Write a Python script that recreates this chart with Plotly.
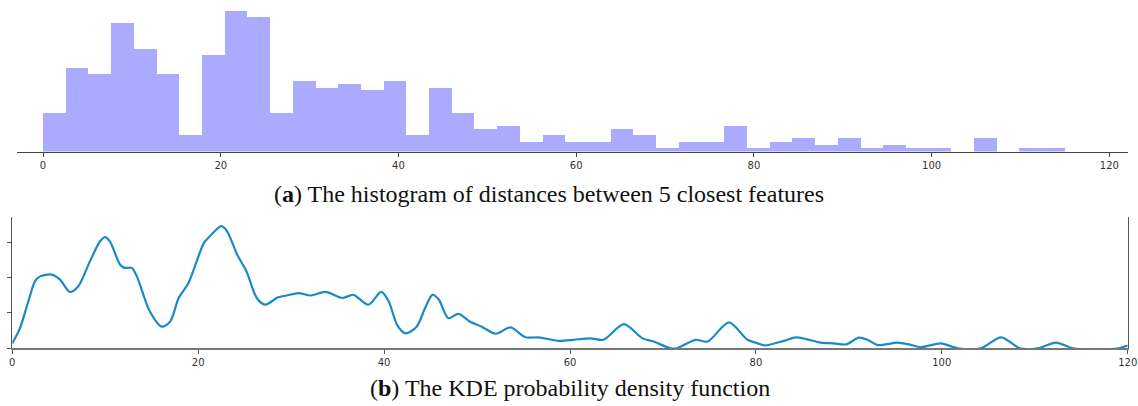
import plotly.graph_objects as go

# ---------- data ----------
# histogram: 45 equal bins spanning 0..115
bin_start = 0.0
bin_end = 115.0
hist_heights = [115, 251, 232, 385, 307, 232, 49, 290, 421, 405,
                115, 212, 192, 202, 184, 212, 49, 192, 115, 68,
                77, 29, 49, 29, 29, 68, 49, 12, 29, 29,
                77, 12, 29, 40, 20, 40, 12, 20, 12, 12,
                0, 40, 0, 12, 12]

# KDE curve
kde_x = [0, 0.83, 1.72, 2.44, 2.98, 4.24, 5.13, 6.21, 7.1, 8.36, 9.44, 9.98, 10.5,
         11.6, 12.1, 12.85, 13.4, 14.8, 16.1, 17.0, 17.9, 18.95, 20.6, 21.1, 21.8,
         22.5, 23.1, 24.2, 25.2, 26.3, 27.2, 28.6, 29.5, 30.8, 32.1, 33.7, 35.5,
         36.7, 38.3, 39.7, 40.5, 41.4, 42.3, 43.5, 44.4, 45.2, 45.9, 46.9, 48.0,
         49.3, 50.5, 52.0, 53.6, 55.2, 56.6, 58.8, 60.4, 62.2, 63.6, 65.8, 67.8,
         69.0, 70.8, 71.5, 73.5, 74.8, 77.1, 79.1, 80.2, 81.0, 83.0, 84.3, 85.4,
         87.0, 88.4, 89.7, 91.1, 92.0, 93.1, 95.2, 96.5, 97.7, 99.9, 101.7, 104.2,
         106.4, 108.4, 110.3, 112.3, 114.1, 119.0, 120.0]
kde_y = [0.14, 0.57, 1.32, 1.89, 2.03, 2.08, 1.94, 1.59, 1.75, 2.46, 3.02, 3.14, 3.02,
         2.36, 2.27, 2.27, 2.03, 1.04, 0.61, 0.76, 1.42, 1.84, 2.97, 3.12, 3.31,
         3.45, 3.31, 2.64, 2.17, 1.42, 1.23, 1.44, 1.49, 1.56, 1.49, 1.59, 1.42,
         1.51, 1.23, 1.59, 1.32, 0.66, 0.42, 0.61, 1.13, 1.51, 1.37, 0.85, 0.97,
         0.74, 0.61, 0.41, 0.59, 0.31, 0.31, 0.21, 0.24, 0.28, 0.24, 0.68, 0.28,
         0.19, 0.0, 0.0, 0.24, 0.19, 0.73, 0.24, 0.14, 0.08, 0.21, 0.31, 0.26,
         0.16, 0.14, 0.11, 0.30, 0.24, 0.09, 0.16, 0.11, 0.03, 0.14, 0.0, 0.0,
         0.31, 0.0, 0.0, 0.16, 0.0, 0.0, 0.08]

x_ticks = [0, 20, 40, 60, 80, 100, 120]
kde_yticks = [0, 1, 2, 3]

caption_a = "(<b>a</b>) The histogram of distances between 5 closest features"
caption_b = "(<b>b</b>) The KDE probability density function"

# ---------- figure ----------
W, H = 1138, 406
n_bins = len(hist_heights)
bw = (bin_end - bin_start) / n_bins
centers = [bin_start + bw * (i + 0.5) for i in range(n_bins)]

fig = go.Figure()
fig.add_trace(go.Bar(x=centers, y=hist_heights, width=bw,
                     marker=dict(color="#aaaaff", line=dict(width=0)),
                     xaxis="x", yaxis="y", showlegend=False, hoverinfo="skip"))
fig.add_trace(go.Scatter(x=kde_x, y=kde_y, mode="lines",
                         line=dict(color="#1a8ac6", width=2.2, shape="spline", smoothing=0.8),
                         xaxis="x2", yaxis="y2", showlegend=False, hoverinfo="skip"))

tickfont = dict(family="DejaVu Sans, sans-serif", size=10, color="#333333")
capfont = dict(family="Palatino Linotype, Book Antiqua, Palatino, Liberation Serif, serif",
               size=24, color="#111")

fig.update_layout(
    width=W, height=H, autosize=False,
    margin=dict(l=0, r=0, t=0, b=0, autoexpand=False),
    paper_bgcolor="white", plot_bgcolor="white",
    bargap=0,
    xaxis=dict(domain=[17 / W, 1128 / W], range=[-2.93, 122.1], automargin=False,
               tickvals=x_ticks, ticks="outside", ticklen=4, tickcolor="#444",
               showline=True, linecolor="#444", linewidth=1.2,
               showgrid=False, zeroline=False, tickfont=tickfont, anchor="y"),
    yaxis=dict(domain=[1 - 151.5 / H, 1 - 5 / H], range=[0, 440], automargin=False,
               showline=False, showgrid=False, zeroline=False,
               showticklabels=False, ticks="", anchor="x"),
    xaxis2=dict(domain=[12.3 / W, 1127.7 / W], range=[0, 120], automargin=False,
                tickvals=x_ticks, ticks="outside", ticklen=4, tickcolor="#555",
                showline=True, linecolor="#777", linewidth=1.6,
                showgrid=False, zeroline=False, tickfont=tickfont, anchor="y2"),
    yaxis2=dict(domain=[1 - 348.3 / H, 1 - 217.2 / H], range=[0, 3.7], automargin=False,
                tickvals=kde_yticks, ticks="outside", ticklen=4, tickcolor="#555",
                showticklabels=False, showline=True, mirror=True,
                linecolor="#555", linewidth=1.2,
                showgrid=False, zeroline=False, anchor="x2"),
    annotations=[
        dict(text=caption_a, x=549 / W, y=1 - 194 / H, xref="paper", yref="paper",
             showarrow=False, xanchor="center", yanchor="middle", font=capfont),
        dict(text=caption_b, x=570 / W, y=1 - 388 / H, xref="paper", yref="paper",
             showarrow=False, xanchor="center", yanchor="middle", font=capfont),
    ],
)

fig.write_html("out.html", config={"responsive": False, "displayModeBar": False},
               post_script="document.body.style.margin='0';document.body.style.overflow='hidden';")
